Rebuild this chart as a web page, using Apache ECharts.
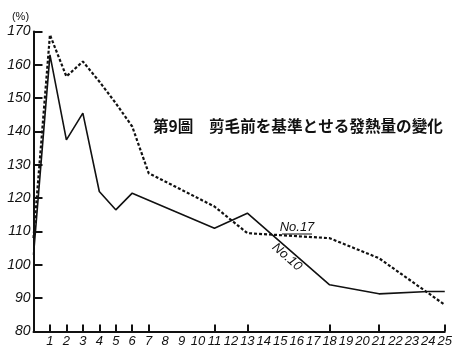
<!DOCTYPE html>
<html>
<head>
<meta charset="utf-8">
<script src="https://cdn.jsdelivr.net/npm/echarts@6/dist/echarts.min.js"></script>
<style>
  html, body { margin: 0; padding: 0; background: #fff; }
  #chart { width: 455px; height: 349px; }
</style>
</head>
<body>
<div id="chart"></div>
<script>
// 横軸（0〜25）
const xCats = ['0', '1', '2', '3', '4', '5', '6', '7', '8', '9', '10', '11', '12',
  '13', '14', '15', '16', '17', '18', '19', '20', '21', '22', '23', '24', '25'];
// 目盛を打つ位置
const tickIdx = [1, 2, 3, 4, 5, 6, 7, 11, 13, 18, 21, 25];
// No.10（実線）
const no10 = [103, 163, 137.5, 145.5, 122, 116.5, 121.5, null, null, null, null, 111, null,
  115.5, null, null, null, null, 94, null, null, 91.3, null, null, 92, 92];
// No.17（点線）
const no17 = [108, 169, 156.5, 161, 155, 148.5, 141.5, 127.5, null, null, null, 117.5, null,
  109.5, null, null, null, null, 108, null, null, 102, null, null, null, 88];
const titleText = '第9圖　剪毛前を基準とせる發熱量の變化';

const dom = document.getElementById('chart');
const myChart = echarts.init(dom);

const labelFont = {
  fontFamily: 'Liberation Sans',
  fontStyle: 'italic',
  color: '#111'
};

const option = {
  backgroundColor: '#fff',
  animation: false,
  grid: { left: 33.5, right: 7.5, top: 31.5, bottom: 17.5 },
  xAxis: {
    type: 'category',
    data: xCats,
    boundaryGap: false,
    axisLine: { lineStyle: { color: '#111', width: 2 } },
    axisTick: {
      inside: true,
      length: 7,
      interval: (i) => tickIdx.includes(i),
      lineStyle: { color: '#111', width: 2 }
    },
    axisLabel: Object.assign({
      interval: 0,
      fontSize: 13,
      margin: 3,
      hideOverlap: false,
      formatter: (v) => (v === '0' ? '' : v)
    }, labelFont),
    splitLine: { show: false }
  },
  yAxis: {
    type: 'value',
    min: 80,
    max: 170,
    interval: 10,
    name: '(%)',
    nameLocation: 'end',
    nameGap: 9,
    nameTextStyle: { fontSize: 11, color: '#111', fontFamily: 'Liberation Sans', padding: [0, 0, 0, -26] },
    axisLine: { show: true, lineStyle: { color: '#111', width: 2 } },
    axisTick: { show: true, inside: true, length: 9, lineStyle: { color: '#111', width: 2 } },
    axisLabel: Object.assign({ fontSize: 14, margin: 3 }, labelFont),
    splitLine: { show: false }
  },
  series: [
    {
      name: 'No.10',
      type: 'line',
      data: no10,
      connectNulls: true,
      showSymbol: false,
      lineStyle: { color: '#111', width: 1.6 }
    },
    {
      name: 'No.17',
      type: 'line',
      data: no17,
      connectNulls: true,
      showSymbol: false,
      lineStyle: { color: '#111', width: 2.2, type: [3, 2] }
    }
  ],
  graphic: [
    {
      type: 'text',
      left: 153,
      top: 118,
      style: {
        text: titleText,
        fontSize: 15.6,
        fontWeight: 'bold',
        fontFamily: 'Noto Sans CJK JP',
        fill: '#111'
      }
    },
    {
      type: 'text',
      x: 297,
      y: 227,
      style: {
        text: 'No.17',
        fontSize: 13,
        fontStyle: 'italic',
        fontFamily: 'Liberation Sans',
        fill: '#111',
        align: 'center',
        verticalAlign: 'middle'
      }
    },
    {
      type: 'line',
      shape: { x1: 282, y1: 234, x2: 312, y2: 234 },
      style: { stroke: '#111', lineWidth: 1 }
    },
    {
      type: 'text',
      x: 287,
      y: 257,
      rotation: -0.72,
      style: {
        text: 'No.10',
        fontSize: 13,
        fontStyle: 'italic',
        fontFamily: 'Liberation Sans',
        fill: '#111',
        align: 'center',
        verticalAlign: 'middle'
      }
    }
  ]
};

myChart.setOption(option);
</script>
</body>
</html>
